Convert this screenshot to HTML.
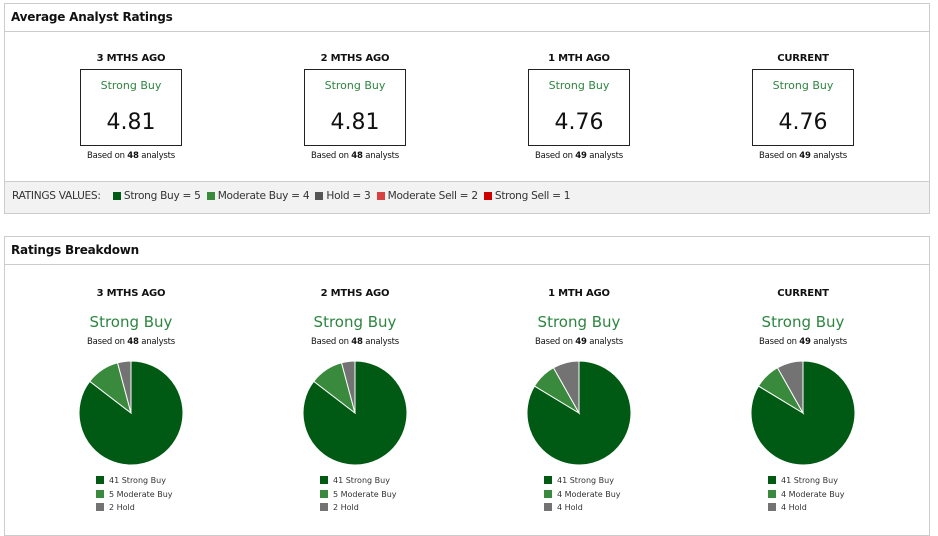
<!DOCTYPE html>
<html><head><meta charset="utf-8"><style>
body{margin:0;width:938px;height:526px;overflow:hidden;background:#fff;font-family:"DejaVu Sans","Liberation Sans",sans-serif;color:#111;position:relative}
.panel{position:absolute;left:4px;width:926px;border:1px solid #ccc;box-sizing:border-box}
.hdr{height:27px;border-bottom:1px solid #ccc;font-weight:bold;font-size:12px;line-height:27px;padding-left:6px;letter-spacing:-0.2px}
.abs{position:absolute;text-align:center;white-space:nowrap}
.t{font-size:10px;font-weight:bold;width:200px;letter-spacing:-0.2px}
.box{border:1px solid #222;width:102px;height:77px;box-sizing:border-box}
.g{color:#2e8540}
.small{font-size:8.5px;width:200px;letter-spacing:-0.2px}
.leg{font-size:8px;text-align:left;white-space:nowrap;position:absolute;color:#333}
.sw{display:inline-block;width:8px;height:8px;vertical-align:-1px;margin-right:5px}
</style></head><body>
<div class="panel" style="top:3px;height:211px">
<div class="hdr">Average Analyst Ratings</div>
<div style="position:absolute;left:0;right:0;top:177px;bottom:0;background:#f2f2f2;border-top:1px solid #ccc;font-size:10.6px;line-height:28px;padding-left:7px;color:#333;letter-spacing:-0.3px">RATINGS VALUES:&nbsp;&nbsp;&nbsp; <span class="sw" style="background:#005a13;margin-right:3px"></span>Strong Buy = 5&nbsp;&nbsp;<span class="sw" style="background:#3a8a3d;margin-right:3px"></span>Moderate Buy = 4&nbsp;&nbsp;<span class="sw" style="background:#555;margin-right:3px"></span>Hold = 3&nbsp;&nbsp;<span class="sw" style="background:#d94040;margin-right:3px"></span>Moderate Sell = 2&nbsp;&nbsp;<span class="sw" style="background:#c00;margin-right:3px"></span>Strong Sell = 1</div>
</div>
<div class="panel" style="top:236px;height:300px">
<div class="hdr">Ratings Breakdown</div>
</div>
<div id="root"></div>
<script>
const periods=["3 MTHS AGO","2 MTHS AGO","1 MTH AGO","CURRENT"];
const avgRatings=["4.81","4.81","4.76","4.76"];
const analysts=[48,48,49,49];
const strongBuy=[41,41,41,41];
const moderateBuy=[5,5,4,4];
const hold=[2,2,4,4];
const root=document.getElementById('root');
const colors=["#005a13","#3a8a3d","#737373"];
function add(html,name){const d=document.createElement('div');d.innerHTML=html;const e=d.firstElementChild;root.appendChild(e);return e;}
periods.forEach((p,i)=>{
 const cx=131+224*i;
 add(`<div class="abs t" style="left:${cx-100}px;top:53px">${p}</div>`,'period-title');
 add(`<div class="abs box" style="left:${cx-51}px;top:69px"><div class="g" style="font-size:11px;margin-top:9px">Strong Buy</div><div style="font-size:22px;margin-top:18px">${avgRatings[i]}</div></div>`,'rating-box');
 add(`<div class="abs small" style="left:${cx-100}px;top:151px">Based on <b>${analysts[i]}</b> analysts</div>`,'analyst-count');
 add(`<div class="abs t" style="left:${cx-100}px;top:288px">${p}</div>`,'breakdown-period-title');
 add(`<div class="abs g" style="left:${cx-100}px;width:200px;top:313px;font-size:15px">Strong Buy</div>`,'consensus-label');
 add(`<div class="abs small" style="left:${cx-100}px;top:337px">Based on <b>${analysts[i]}</b> analysts</div>`,'breakdown-analyst-count');
 const vals=[strongBuy[i],moderateBuy[i],hold[i]];const tot=vals.reduce((a,b)=>a+b,0);
 const r=52,cy=413;
 const ns='http://www.w3.org/2000/svg';
 const svg=document.createElementNS(ns,'svg');svg.setAttribute('width',938);svg.setAttribute('height',526);
 svg.setAttribute('style','position:absolute;left:0;top:0');
 
 
 let a=0;
 vals.forEach((v,k)=>{
  const a2=a+v/tot*2*Math.PI;
  const x1=cx+r*Math.sin(a),y1=cy-r*Math.cos(a),x2=cx+r*Math.sin(a2),y2=cy-r*Math.cos(a2);
  const path=document.createElementNS(ns,'path');
  path.setAttribute('d',`M${cx},${cy}L${x1},${y1}A${r},${r} 0 ${a2-a>Math.PI?1:0} 1 ${x2},${y2}Z`);
  path.setAttribute('fill',colors[k]);path.setAttribute('stroke','#fff');path.setAttribute('stroke-width','1');
  
  
  svg.appendChild(path);a=a2;
 });
 root.appendChild(svg);
 const labels=["Strong Buy","Moderate Buy","Hold"];
 vals.forEach((v,k)=>{
  add(`<div class="leg" style="left:${cx-35}px;top:${476+k*13.5}px"><span class="sw" style="background:${colors[k]}"></span>${v} ${labels[k]}</div>`,'legend-entry');
 });
});
</script>
</body></html>
